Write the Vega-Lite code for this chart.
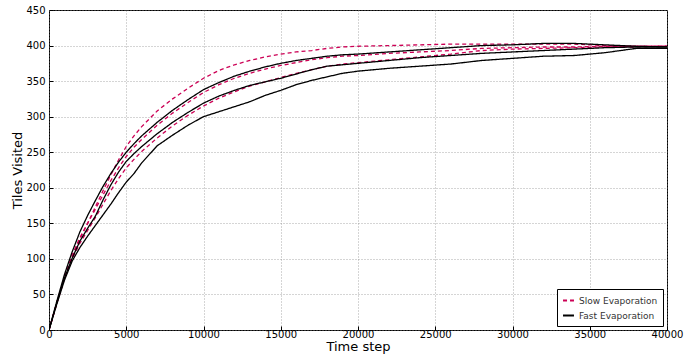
{
  "$schema": "https://vega.github.io/schema/vega-lite/v6.json",
  "width": 618,
  "height": 320,
  "autosize": "none",
  "padding": {"left": 49, "top": 10, "right": 31, "bottom": 30},
  "background": "white",
  "config": {
    "font": "DejaVu Sans",
    "view": {"stroke": "#000", "strokeWidth": 1},
    "axis": {
      "domain": false,
      "grid": true,
      "gridColor": "#888",
      "gridDash": [1, 2],
      "gridWidth": 0.7,
      "tickColor": "#000",
      "tickSize": -4,
      "labelFontSize": 10,
      "labelColor": "#000",
      "labelFont": "DejaVu Sans",
      "titleFont": "DejaVu Sans",
      "titleFontSize": 13,
      "titleFontWeight": "normal",
      "titleColor": "#000"
    },
    "legend": {
      "orient": "bottom-right",
      "offset": 4,
      "fillColor": "white",
      "strokeColor": "#000",
      "padding": 5,
      "labelFontSize": 9,
      "labelColor": "#333",
      "labelFont": "DejaVu Sans",
      "symbolType": "stroke",
      "symbolStrokeWidth": 2,
      "symbolSize": 120,
      "rowPadding": 3
    }
  },
  "datasets": {
    "runs": [
      {"t":0,"R1":0,"B1":0,"R2":0,"B2":0,"R3":0,"B3":0},
      {"t":500,"R1":38,"B1":40,"R2":38,"B2":38,"R3":37,"B3":36},
      {"t":1000,"R1":74,"B1":78,"R2":74,"B2":73,"R3":72,"B3":70},
      {"t":1500,"R1":104,"B1":110,"R2":105,"B2":101,"R3":100,"B3":97},
      {"t":2000,"R1":128,"B1":138,"R2":130,"B2":125,"R3":122,"B3":116},
      {"t":2500,"R1":150,"B1":161,"R2":150,"B2":143,"R3":140,"B3":132},
      {"t":3000,"R1":173,"B1":182,"R2":170,"B2":160,"R3":158,"B3":147},
      {"t":3500,"R1":196,"B1":202,"R2":190,"B2":183,"R3":177,"B3":162},
      {"t":4000,"R1":218,"B1":220,"R2":210,"B2":204,"R3":196,"B3":177},
      {"t":4500,"R1":239,"B1":236,"R2":228,"B2":222,"R3":213,"B3":193},
      {"t":5000,"R1":258,"B1":250,"R2":244,"B2":237,"R3":228,"B3":208},
      {"t":5500,"R1":273,"B1":262,"R2":257,"B2":248,"R3":240,"B3":220},
      {"t":6000,"R1":286,"B1":273,"R2":268,"B2":258,"R3":251,"B3":235},
      {"t":7000,"R1":308,"B1":292,"R2":288,"B2":276,"R3":270,"B3":259},
      {"t":8000,"R1":325,"B1":309,"R2":305,"B2":292,"R3":287,"B3":274},
      {"t":9000,"R1":340,"B1":324,"R2":320,"B2":306,"R3":302,"B3":288},
      {"t":10000,"R1":354,"B1":338,"R2":334,"B2":319,"R3":315,"B3":300},
      {"t":11000,"R1":365,"B1":348,"R2":345,"B2":329,"R3":326,"B3":307},
      {"t":12000,"R1":373,"B1":357,"R2":354,"B2":337,"R3":335,"B3":314},
      {"t":13000,"R1":379,"B1":364,"R2":361,"B2":344,"R3":343,"B3":321},
      {"t":14000,"R1":384,"B1":370,"R2":367,"B2":349,"R3":349,"B3":330},
      {"t":15000,"R1":388,"B1":375,"R2":372,"B2":354,"R3":355,"B3":337},
      {"t":16000,"R1":391,"B1":379,"R2":376,"B2":360,"R3":361,"B3":345},
      {"t":17000,"R1":393,"B1":382,"R2":380,"B2":366,"R3":366,"B3":351},
      {"t":18000,"R1":396,"B1":385,"R2":383,"B2":371,"R3":371,"B3":356},
      {"t":19000,"R1":398,"B1":387,"R2":385,"B2":373,"R3":374,"B3":361},
      {"t":20000,"R1":399,"B1":388,"R2":386,"B2":375,"R3":376,"B3":364},
      {"t":22000,"R1":400,"B1":391,"R2":389,"B2":379,"R3":380,"B3":368},
      {"t":24000,"R1":401,"B1":394,"R2":391,"B2":383,"R3":384,"B3":371},
      {"t":26000,"R1":402,"B1":397,"R2":393,"B2":386,"R3":388,"B3":374},
      {"t":28000,"R1":402,"B1":400,"R2":396,"B2":389,"R3":393,"B3":379},
      {"t":30000,"R1":402,"B1":401,"R2":397,"B2":391,"R3":395,"B3":382},
      {"t":32000,"R1":402,"B1":403,"R2":398,"B2":393,"R3":396,"B3":385},
      {"t":34000,"R1":402,"B1":403,"R2":398,"B2":395,"R3":397,"B3":386},
      {"t":36000,"R1":400,"B1":401,"R2":399,"B2":397,"R3":398,"B3":390},
      {"t":38000,"R1":399,"B1":399,"R2":399,"B2":398,"R3":398,"B3":396},
      {"t":40000,"R1":399,"B1":398,"R2":399,"B2":398,"R3":399,"B3":396}
    ],
    "kinds": [
      {"run":"R1","evap":"Slow Evaporation"},
      {"run":"R2","evap":"Slow Evaporation"},
      {"run":"R3","evap":"Slow Evaporation"},
      {"run":"B1","evap":"Fast Evaporation"},
      {"run":"B2","evap":"Fast Evaporation"},
      {"run":"B3","evap":"Fast Evaporation"}
    ]
  },
  "data": {"name": "runs"},
  "transform": [
    {"fold": ["R1", "R2", "R3", "B1", "B2", "B3"], "as": ["run", "v"]},
    {"lookup": "run", "from": {"data": {"name": "kinds"}, "key": "run", "fields": ["evap"]}}
  ],
  "mark": {"type": "line", "strokeWidth": 1.3, "clip": true},
  "encoding": {
    "x": {
      "field": "t",
      "type": "quantitative",
      "scale": {"domain": [0, 40000], "nice": false},
      "axis": {
        "title": "Time step",
        "values": [0, 5000, 10000, 15000, 20000, 25000, 30000, 35000, 40000],
        "format": "d",
        "labelFlush": false,
        "labelPadding": 3,
        "titlePadding": 1
      }
    },
    "y": {
      "field": "v",
      "type": "quantitative",
      "scale": {"domain": [0, 450], "nice": false},
      "axis": {
        "title": "Tiles Visited",
        "values": [0, 50, 100, 150, 200, 250, 300, 350, 400, 450],
        "labelFlush": false,
        "labelPadding": 8,
        "titlePadding": 1
      }
    },
    "color": {
      "field": "evap",
      "type": "nominal",
      "scale": {"domain": ["Slow Evaporation", "Fast Evaporation"], "range": ["#cc0055", "#000000"]},
      "legend": {"title": null}
    },
    "strokeDash": {
      "field": "evap",
      "type": "nominal",
      "scale": {"domain": ["Slow Evaporation", "Fast Evaporation"], "range": [[4, 3], [1, 0]]},
      "legend": {"title": null}
    },
    "detail": {"field": "run"}
  }
}
